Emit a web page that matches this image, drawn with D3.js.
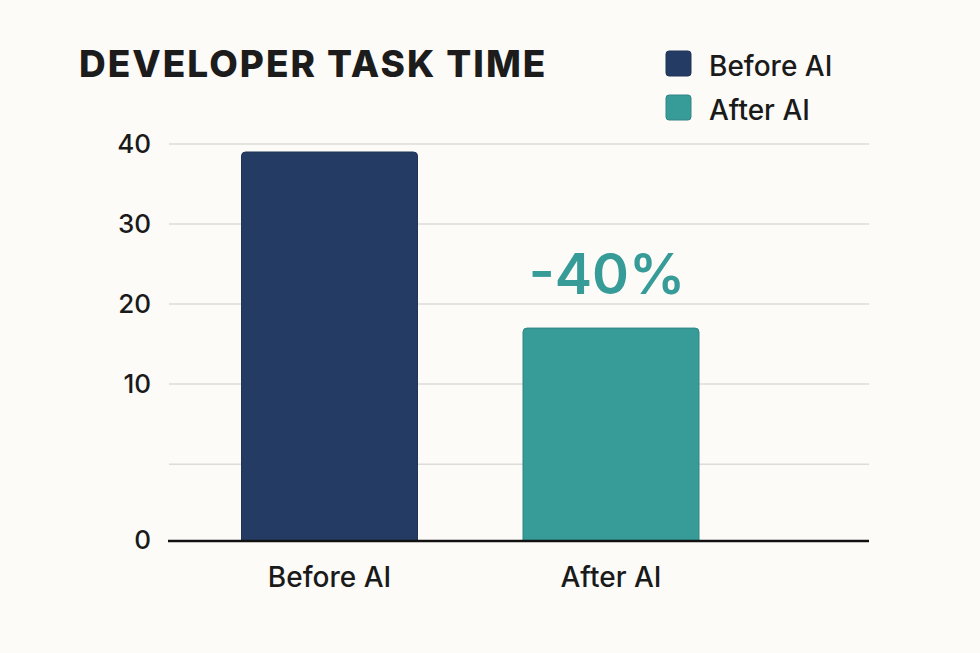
<!DOCTYPE html>
<html>
<head>
<meta charset="utf-8">
<script src="https://cdn.jsdelivr.net/npm/d3@7"></script>
<style>
  html, body { margin: 0; padding: 0; background: #fcfbf8; }
  svg { display: block; font-family: Inter, "Noto Sans", sans-serif; }
</style>
</head>
<body>
<svg id="chart" width="980" height="653"></svg>
<script>
// ---- data ----
const categories = ["Before AI", "After AI"];
const values = [39, 17];
const colors = ["#243c63", "#379b98"];
const gridValues = [40, 30, 20, 10, 0];
const gridLabels = ["40", "30", "20", "10", ""];
const baselineLabel = "0";
const baselineValue = -9.6;
const title = "DEVELOPER TASK TIME";
const annotation = "-40%";

const svg = d3.select("#chart");
svg.append("rect").attr("width", 980).attr("height", 653).attr("fill", "#fcfbf8");

const y = d3.scaleLinear().domain([baselineValue, 40]).range([541, 144]);
const x = d3.scalePoint().domain(categories).range([329.5, 611]);
const barW = 176;

// gridlines
svg.append("g").selectAll("line").data(gridValues).join("line")
  .attr("x1", 169).attr("x2", 869)
  .attr("y1", d => y(d)).attr("y2", d => y(d))
  .attr("stroke", "#dcdcda").attr("stroke-width", 1.5);

// y labels
svg.append("g").selectAll("text").data(gridValues).join("text")
  .attr("x", 151).attr("y", d => y(d) + 9)
  .attr("text-anchor", "end")
  .attr("font-size", 26).attr("font-weight", 500).attr("fill", "#1a1a1a")
  .text((d, i) => gridLabels[i]);
svg.append("text").attr("x", 151).attr("y", y(baselineValue) + 8)
  .attr("text-anchor", "end").attr("font-size", 26).attr("font-weight", 500).attr("fill", "#1a1a1a")
  .text(baselineLabel);

// bars with rounded top corners
function barPath(cx, top, bottom, w, r) {
  const x0 = cx - w / 2, x1 = cx + w / 2;
  return `M${x0},${bottom} L${x0},${top + r} Q${x0},${top} ${x0 + r},${top} L${x1 - r},${top} Q${x1},${top} ${x1},${top + r} L${x1},${bottom} Z`;
}
svg.append("g").selectAll("path").data(categories).join("path")
  .attr("d", (d, i) => barPath(x(d), y(values[i]), y(baselineValue), barW, 4))
  .attr("fill", (d, i) => colors[i])
  .attr("stroke", (d, i) => d3.color(colors[i]).darker(0.4))
  .attr("stroke-width", 1);

// baseline
svg.append("line").attr("x1", 168).attr("x2", 869)
  .attr("y1", y(baselineValue)).attr("y2", y(baselineValue))
  .attr("stroke", "#111").attr("stroke-width", 2.5);

// x labels
svg.append("g").selectAll("text").data(categories).join("text")
  .attr("x", d => x(d)).attr("y", 587)
  .attr("text-anchor", "middle").attr("font-size", 28).attr("font-weight", 500).attr("fill", "#1a1a1a")
  .text(d => d);

// annotation
svg.append("text").attr("x", x(categories[1]) - 4).attr("y", 294)
  .attr("text-anchor", "middle").attr("font-size", 56).attr("font-weight", 600)
  .attr("fill", colors[1]).text(annotation);

// title
svg.append("text").attr("x", 79).attr("y", 77)
  .attr("font-size", 37).attr("font-weight", 800).attr("fill", "#1c1c1c")
  .attr("letter-spacing", 2)
  .text(title);

// legend
const lg = svg.append("g").selectAll("g").data(categories).join("g")
  .attr("transform", (d, i) => `translate(666, ${51 + i * 44})`);
lg.append("rect").attr("width", 25).attr("height", 25).attr("rx", 3)
  .attr("fill", (d, i) => colors[i])
  .attr("stroke", (d, i) => d3.color(colors[i]).darker(0.4)).attr("stroke-width", 1);
lg.append("text").attr("x", 43).attr("y", 25)
  .attr("font-size", 28).attr("font-weight", 500).attr("fill", "#1a1a1a").text(d => d);
</script>
</body>
</html>
